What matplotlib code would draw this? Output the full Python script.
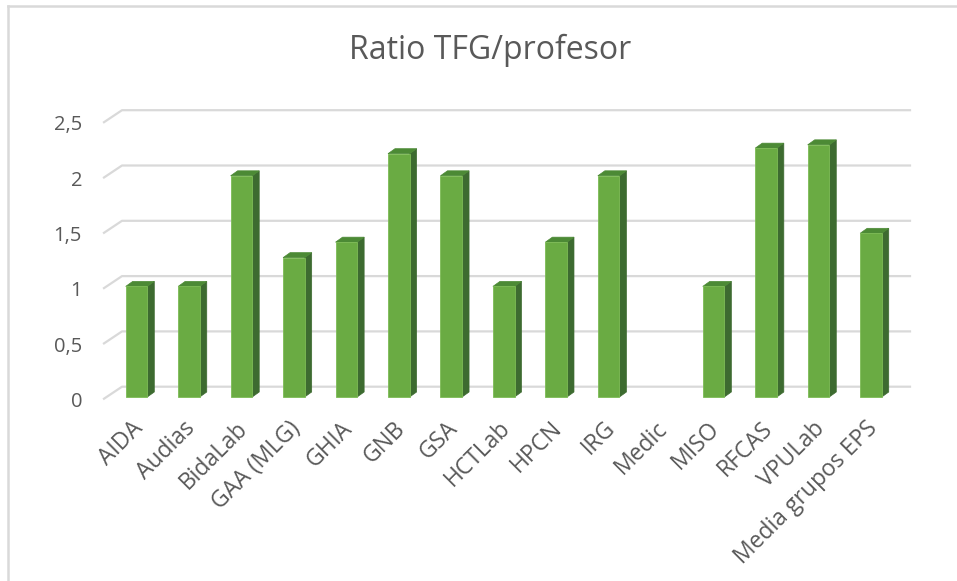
import matplotlib
matplotlib.use("Agg")
import matplotlib.pyplot as plt
from matplotlib.patches import Polygon, Rectangle
from matplotlib.lines import Line2D

categories = ["AIDA", "Audias", "BidaLab", "GAA (MLG)", "GHIA", "GNB", "GSA",
              "HCTLab", "HPCN", "IRG", "Medic", "MISO", "RFCAS", "VPULab",
              "Media grupos EPS"]
values = [1.0, 1.0, 2.0, 1.26, 1.40, 2.20, 2.0, 1.0, 1.40, 2.0, 0.0, 1.0, 2.25, 2.28, 1.48]
yticks = [0, 0.5, 1, 1.5, 2, 2.5]
ytick_labels = ["0", "0,5", "1", "1,5", "2", "2,5"]
title = "Ratio TFG/profesor"

W, H = 957, 581
fig = plt.figure(figsize=(W / 100, H / 100), dpi=100)
fig.patch.set_facecolor("white")

# pixel geometry of the plot region
px_per_cat = 52.46
px_per_unit = 110.6
first_center_px = 136.5
zero_px = 397.0
left_px, right_px = 104.0, 910.0
top_px, bottom_px = 105.0, 400.0

ax = fig.add_axes([left_px / W, 1 - bottom_px / H,
                   (right_px - left_px) / W, (bottom_px - top_px) / H])
ax.set_xlim((left_px - first_center_px) / px_per_cat,
            (right_px - first_center_px) / px_per_cat)
ax.set_ylim(-(bottom_px - zero_px) / px_per_unit, (zero_px - top_px) / px_per_unit)
ax.axis("off")

# depth offsets (data units)
wall_dx = 18.0 / px_per_cat
wall_dy = 10.3 / px_per_unit
slant_drop = 12.0 / px_per_unit
bar_w = 21.6 / px_per_cat
bar_dx = 7.0 / px_per_cat
bar_dy = 5.0 / px_per_unit

x_front_left = ax.get_xlim()[0]
x_back_right = ax.get_xlim()[1]
grid_c = "#d9d9d9"
for t in yticks:
    yb = t + wall_dy
    ax.add_line(Line2D([x_front_left, x_front_left + wall_dx, x_back_right],
                       [yb - slant_drop, yb, yb], color=grid_c, lw=1.6,
                       clip_on=False, zorder=1))

front_c = "#6aab43"
side_c = "#3d6b30"
top_c = "#4c8a35"
for i, v in enumerate(values):
    if v <= 0:
        continue
    x0, x1 = i - bar_w / 2, i + bar_w / 2
    ax.add_patch(Polygon([[x1, 0], [x1 + bar_dx, bar_dy], [x1 + bar_dx, v + bar_dy], [x1, v]],
                         closed=True, facecolor=side_c, edgecolor=side_c, lw=0.5, zorder=3))
    ax.add_patch(Polygon([[x0, v], [x1, v], [x1 + bar_dx, v + bar_dy], [x0 + bar_dx, v + bar_dy]],
                         closed=True, facecolor=top_c, edgecolor=top_c, lw=0.5, zorder=3))
    ax.add_patch(Rectangle((x0, 0), bar_w, v, facecolor=front_c, edgecolor="#7dbb55",
                           lw=0.6, zorder=4))

font = "Open Sans"
txt_c = "#595959"
label_off = -5.0 / px_per_unit
for t, lab in zip(yticks, ytick_labels):
    ax.text(x_front_left - 22.0 / px_per_cat, t + label_off, lab, ha="right", va="center",
            fontsize=14.5, color=txt_c, family=font, clip_on=False)

xlab_y = -28.0 / px_per_unit
for i, lab in enumerate(categories):
    ax.text(i + 0.05, xlab_y, lab, rotation=45, rotation_mode="anchor",
            ha="right", va="center", fontsize=16.5, color=txt_c, family=font, clip_on=False)

fig.text(490 / W, 1 - 50 / H, title, ha="center", va="center", fontsize=23,
         color=txt_c, family=font)

# chart border
fig.add_artist(Line2D([8 / W, 8 / W], [0, 1 - 6 / H], color="#d9d9d9", lw=1.8,
                      transform=fig.transFigure))
fig.add_artist(Line2D([8 / W, 1], [1 - 6 / H, 1 - 6 / H], color="#d9d9d9", lw=1.8,
                      transform=fig.transFigure))

fig.savefig("out.png", dpi=100, facecolor="white")
